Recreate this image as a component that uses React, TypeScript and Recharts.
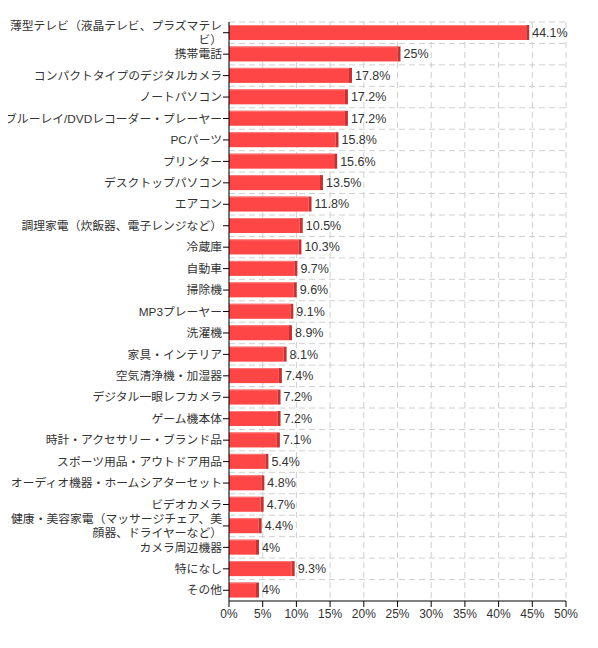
import { BarChart, Bar, XAxis, YAxis, CartesianGrid, LabelList } from 'recharts'

const categories = [
  '薄型テレビ（液晶テレビ、プラズマテレビ）',
  '携帯電話',
  'コンパクトタイプのデジタルカメラ',
  'ノートパソコン',
  'ブルーレイ/DVDレコーダー・プレーヤー',
  'PCパーツ',
  'プリンター',
  'デスクトップパソコン',
  'エアコン',
  '調理家電（炊飯器、電子レンジなど）',
  '冷蔵庫',
  '自動車',
  '掃除機',
  'MP3プレーヤー',
  '洗濯機',
  '家具・インテリア',
  '空気清浄機・加湿器',
  'デジタル一眼レフカメラ',
  'ゲーム機本体',
  '時計・アクセサリー・ブランド品',
  'スポーツ用品・アウトドア用品',
  'オーディオ機器・ホームシアターセット',
  'ビデオカメラ',
  '健康・美容家電（マッサージチェア、美顔器、ドライヤーなど）',
  'カメラ周辺機器',
  '特になし',
  'その他',
]

const values = [
  44.1, 25, 17.8, 17.2, 17.2, 15.8, 15.6, 13.5, 11.8, 10.5, 10.3, 9.7, 9.6, 9.1,
  8.9, 8.1, 7.4, 7.2, 7.2, 7.1, 5.4, 4.8, 4.7, 4.4, 4, 9.3, 4,
]

const xTicks = [0, 5, 10, 15, 20, 25, 30, 35, 40, 45, 50]

const data = categories.map((name, i) => ({ name, value: values[i] }))

const FONT = '"Liberation Sans", "Noto Sans CJK JP", Arial, sans-serif'
const TICK_FS = 11.8

// rough char-width wrap, japanese has no spaces to break on
function wrap(text: string, maxWidth: number) {
  const lines: string[] = []
  let cur = ''
  let w = 0
  for (const ch of text) {
    const cw = ch.charCodeAt(0) > 0xff ? TICK_FS : 7
    if (w + cw > maxWidth && cur) {
      lines.push(cur)
      cur = ''
      w = 0
    }
    cur += ch
    w += cw
  }
  if (cur) lines.push(cur)
  return lines
}

function YTick(props: any) {
  const { x, y, payload } = props
  const lines = wrap(payload.value, 220)
  const start = -((lines.length - 1) * 14) / 2
  const tx = x + 1
  return (
    <text x={tx} y={y} textAnchor="end" fontSize={TICK_FS} fill="#333" fontFamily={FONT}>
      {lines.map((l, i) => (
        <tspan key={i} x={tx} y={y + start + i * 14} dy="0.35em">
          {l}
        </tspan>
      ))}
    </text>
  )
}

// flat bar with a darker 3px side face sticking out on the right
function Bar3D(props: any) {
  const { x, y, width, height } = props
  if (!width || width <= 0) return null
  return (
    <g>
      <rect x={x} y={y} width={width} height={height} fill="#ff4646" />
      <rect x={x} y={y} width={width} height={1} fill="#ff7a7a" />
      <rect x={x + width} y={y} width={3} height={height} fill="#c53232" />
    </g>
  )
}

export default function App() {
  return (
    <div style={{ margin: '-8px 0 0 -8px', width: 598, height: 648 }}>
      <BarChart
        width={598}
        height={648}
        data={data}
        layout="vertical"
        margin={{ top: 22, right: 32, bottom: 17, left: 0 }}
        barSize={15}
      >
        <CartesianGrid
          stroke="#d0d0d0"
          strokeDasharray="6 4"
          horizontalCoordinatesGenerator={({ offset }: any) =>
            categories.map((_, i) => offset.top + (offset.height * i) / categories.length)
          }
        />
        <XAxis
          type="number"
          domain={[0, 50]}
          ticks={xTicks}
          tickFormatter={(v) => `${v}%`}
          height={30}
          axisLine={{ stroke: '#000' }}
          tickLine={{ stroke: '#000' }}
          tick={{ fontSize: 12, fill: '#333', fontFamily: FONT }}
          interval={0}
        />
        <YAxis
          type="category"
          dataKey="name"
          width={229}
          interval={0}
          axisLine={{ stroke: '#000' }}
          tickLine={{ stroke: '#000' }}
          tick={<YTick />}
        />
        <Bar dataKey="value" shape={<Bar3D />} isAnimationActive={false}>
          <LabelList
            dataKey="value"
            position="right"
            offset={6}
            formatter={(v: any) => `${v}%`}
            style={{ fontSize: 12.5, fill: '#333', fontFamily: FONT }}
          />
        </Bar>
      </BarChart>
    </div>
  )
}
